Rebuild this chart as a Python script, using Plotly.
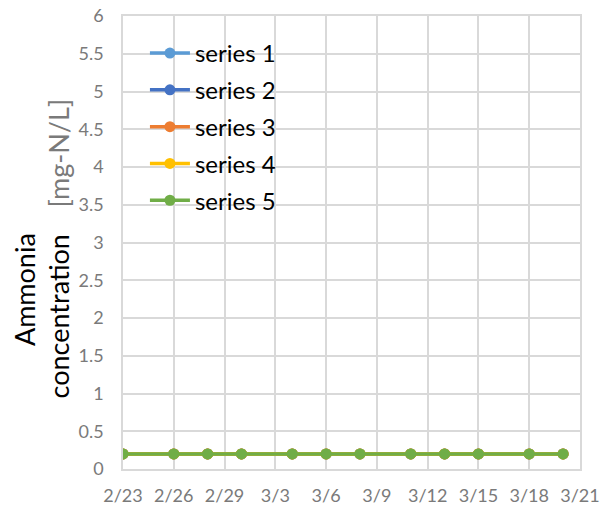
import plotly.graph_objects as go

dates = ["2024-02-23", "2024-02-26", "2024-02-28", "2024-03-01", "2024-03-04", "2024-03-06",
         "2024-03-08", "2024-03-11", "2024-03-13", "2024-03-15", "2024-03-18", "2024-03-20"]
series_names = ["series 1", "series 2", "series 3", "series 4", "series 5"]
series_1 = [0.2] * 12
series_2 = [0.2] * 12
series_3 = [0.2] * 12
series_4 = [0.2] * 12
series_5 = [0.2] * 12
series_values = [series_1, series_2, series_3, series_4, series_5]
colors = ["#5B9BD5", "#4472C4", "#ED7D31", "#FFC000", "#70AD47"]

FONT = "Lato, Calibri, sans-serif"

fig = go.Figure()
for i, (name, vals) in enumerate(zip(series_names, series_values)):
    fig.add_trace(go.Scatter(
        x=dates, y=vals, name=name, mode="lines+markers",
        line=dict(color=colors[i], width=3.5),
        marker=dict(color=colors[i], size=11),
        legendgroup=name,
    ))

grid = "#d9d9d9"
fig.update_layout(
    width=603, height=507, autosize=False,
    margin=dict(l=123, r=23, t=16, b=38, autoexpand=False, pad=0),
    paper_bgcolor="white", plot_bgcolor="white",
    font=dict(family=FONT, color="#7a7a7a"),
    showlegend=True,
    legend=dict(
        x=0.048, y=0.967, xanchor="left", yanchor="top",
        bgcolor="rgba(0,0,0,0)", font=dict(size=24, color="black", family=FONT),
        tracegroupgap=2.6, itemwidth=40,
    ),
    xaxis=dict(
        type="date", range=["2024-02-23", "2024-03-21"], automargin=False,
        tick0="2024-02-23", dtick=3 * 86400000, tickformat="%-m/%-d",
        showgrid=True, gridcolor=grid, gridwidth=1.5,
        showline=True, linecolor=grid, linewidth=1.5, mirror=True,
        ticks="", tickfont=dict(size=18, color="#7a7a7a"),
        ticklabelstandoff=10, zeroline=False, ticklabeloverflow="allow",
    ),
    yaxis=dict(
        range=[0, 6], dtick=0.5, tickformat="~g", automargin=False,
        showgrid=True, gridcolor=grid, gridwidth=1.5,
        showline=True, linecolor=grid, linewidth=1.5, mirror=True,
        ticks="", tickfont=dict(size=18, color="#7a7a7a"),
        ticklabelstandoff=14, zeroline=False, ticklabeloverflow="allow",
    ),
)

# white legend box (drawn above gridlines, below traces)
fig.add_shape(type="rect", xref="paper", yref="paper",
              x0=0.0306, x1=0.4158, y0=0.5497, y1=0.9735,
              fillcolor="white", line=dict(width=0), layer="between")

ann = dict(textangle=-90, xref="paper", yref="paper", showarrow=False,
           xanchor="center", yanchor="middle")
fig.add_annotation(text="Ammonia", x=-0.2166, y=0.395,
                   font=dict(size=27, color="black", family=FONT), **ann)
fig.add_annotation(text="concentration", x=-0.142, y=0.337,
                   font=dict(size=27, color="black", family=FONT), **ann)
fig.add_annotation(text="[mg-N/L]", x=-0.142, y=0.6965,
                   font=dict(size=27, color="#7a7a7a", family=FONT), **ann)

fig.write_html("out.html", config={"displayModeBar": False},
               post_script="document.body.style.margin='0px';")
